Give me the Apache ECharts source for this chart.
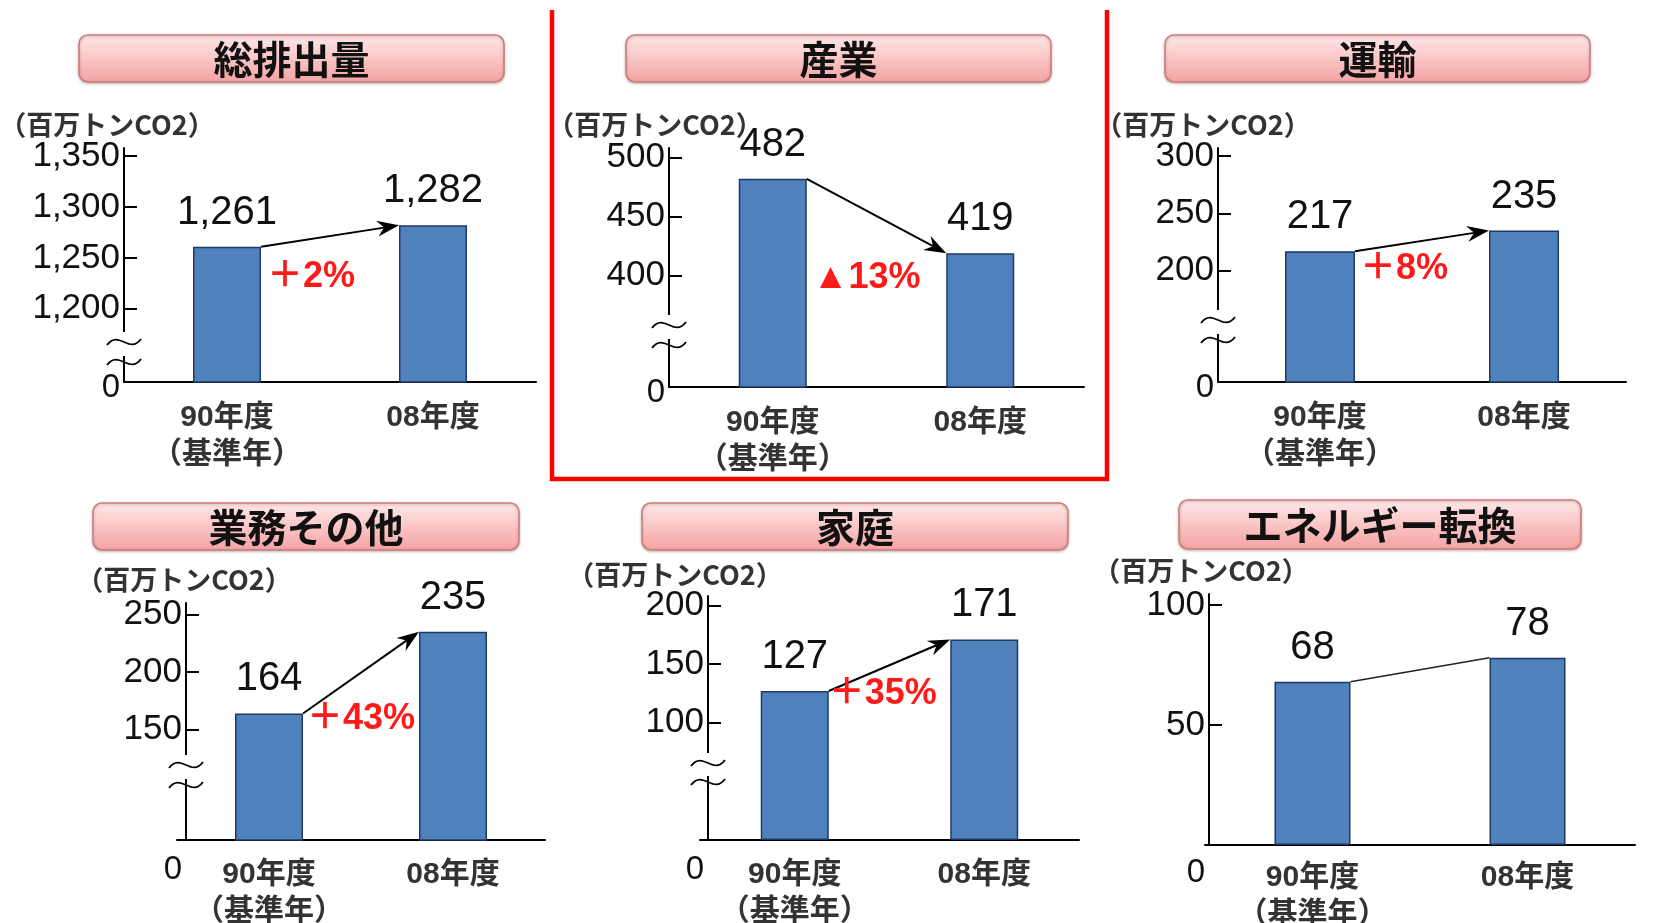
<!DOCTYPE html>
<html><head><meta charset="utf-8">
<script src="https://cdn.jsdelivr.net/npm/echarts@6/dist/echarts.min.js"></script>
<style>html,body{margin:0;padding:0;background:#fff}#c{width:1653px;height:923px}</style>
</head><body><div id="c"></div>
<script>
// ---------- data ----------
const panelTitles = ['総排出量', '産業', '運輸', '業務その他', '家庭', 'エネルギー転換'];
const categories = ['90年度\n（基準年）', '08年度'];
const unitLabel = '（百万トンCO2）';
const totalValues = [1261, 1282];
const industryValues = [482, 419];
const transportValues = [217, 235];
const commercialValues = [164, 235];
const householdValues = [127, 171];
const energyValues = [68, 78];
const changeLabels = ['＋2%', '▲13%', '＋8%', '＋43%', '＋35%', null];
const totalTicks = [1200, 1250, 1300, 1350];
const industryTicks = [400, 450, 500];
const transportTicks = [200, 250, 300];
const commercialTicks = [150, 200, 250];
const householdTicks = [100, 150, 200];
const energyTicks = [50, 100];

const seriesValues = [totalValues, industryValues, transportValues, commercialValues, householdValues, energyValues];
const tickSets = [totalTicks, industryTicks, transportTicks, commercialTicks, householdTicks, energyTicks];

// ---------- layout ----------
const layouts = [
  {gridL:124, gridW:412, top:148, h:234, axisX:124, min:1128, max:1358, barW:68, zeroShift:6, catMargin:17, nameGap:10, nameShift:17, breaks:[-40,-20], dx:6, dy:30, arrow:true, title:[79,35,425,47]},
  {gridL:669, gridW:415, top:148, h:239, axisX:669, min:306, max:508, barW:68, zeroShift:6, catMargin:17, nameGap:10, nameShift:14, breaks:[-62,-42], dx:6, dy:99, arrow:true, title:[626,35,425,47]},
  {gridL:1218, gridW:408, top:148, h:234, axisX:1218, min:103, max:307, barW:70, zeroShift:6, catMargin:17, nameGap:10, nameShift:15, breaks:[-62,-42], dx:5, dy:18, arrow:true, title:[1165,35,425,47]},
  {gridL:177, gridW:368, top:603, h:237, axisX:186, min:54, max:260, barW:68, zeroShift:30, catMargin:16, nameGap:10, nameShift:2, breaks:[-75,-55], dx:4, dy:6, arrow:true, title:[93,503,426,47]},
  {gridL:700, gridW:379, top:596, h:244, axisX:708, min:0, max:208, barW:68, zeroShift:30, catMargin:16, nameGap:4, nameShift:33, breaks:[-77,-58], dx:0, dy:3, arrow:true, title:[642,503,426,47]},
  {gridL:1205, gridW:430, top:594, h:251, axisX:1209, min:0, max:104.6, barW:76, zeroShift:28, catMargin:14, nameGap:10, nameShift:8, breaks:null, dx:0, dy:0, arrow:false, title:[1179,500,402,49]}
];

const NUM = '"Liberation Sans", Arial, sans-serif';
const MIX = '"Liberation Sans", "Noto Sans CJK JP", sans-serif';
const CJK = '"Noto Sans CJK JP", sans-serif';
const fmt = v => Number(v).toLocaleString('en-US');

const grids = [], xAxes = [], yAxes = [], series = [], graphics = [];

layouts.forEach((L, i) => {
  const values = seriesValues[i];
  const ticks = tickSets[i];
  grids.push({left: L.gridL, top: L.top, width: L.gridW, height: L.h, containLabel: false, outerBoundsMode: 'none'});
  xAxes.push({
    gridIndex: i, type: 'category', data: categories, boundaryGap: true,
    axisLine: {show: true, onZero: false, lineStyle: {color: '#000', width: 2}},
    axisTick: {show: false},
    splitLine: {show: false},
    axisLabel: {interval: 0, margin: L.catMargin, fontSize: 30, fontWeight: 'bold', color: '#333', fontFamily: MIX, lineHeight: 37}
  });
  yAxes.push({
    gridIndex: i, type: 'value', min: L.min, max: L.max, offset: L.gridL - L.axisX,
    name: unitLabel, nameLocation: 'end', nameGap: L.nameGap,
    nameTextStyle: {fontSize: 27, fontWeight: 'bold', fontFamily: CJK, color: '#333', align: 'center', verticalAlign: 'bottom', padding: [0, 2 * L.nameShift, 0, 0]},
    axisLine: {show: true, lineStyle: {color: '#000', width: 2}},
    axisTick: {show: true, inside: true, length: 13, lineStyle: {color: '#000', width: 2}, customValues: ticks},
    splitLine: {show: false},
    axisLabel: {
      margin: 4, fontSize: 35, color: '#111', fontFamily: NUM,
      customValues: [L.min].concat(ticks),
      formatter: v => Math.abs(v - L.min) < 1e-6 ? '{z|0}' : fmt(v),
      rich: {z: {fontSize: 33, fontFamily: NUM, color: '#111', padding: [2 * L.zeroShift, 0, 0, 0]}}
    }
  });
  series.push({
    type: 'bar', xAxisIndex: i, yAxisIndex: i, data: values, barWidth: L.barW, clip: true, silent: true,
    itemStyle: {color: '#4F81BD', borderColor: '#1F3864', borderWidth: 1.5},
    label: {show: true, position: 'top', distance: 14, fontSize: 40, color: '#111', fontFamily: NUM, formatter: p => fmt(p.value)}
  });
  const change = changeLabels[i];
  series.push({
    type: 'custom', xAxisIndex: i, yAxisIndex: i, silent: true, z: 5,
    data: [[0, values[0], values[1]]],
    encode: {x: 0, y: 1},
    renderItem: (params, api) => {
      const p1 = api.coord([0, api.value(1)]);
      const p2 = api.coord([1, api.value(2)]);
      const half = L.barW / 2;
      const sx = p1[0] + half, sy = p1[1], ex = p2[0] - half, ey = p2[1];
      const children = [];
      if (L.arrow) {
        const ang = Math.atan2(ey - sy, ex - sx);
        const ux = Math.cos(ang), uy = Math.sin(ang), nx = -uy, ny = ux;
        const HL = 22, HW = 8, NOTCH = 7;
        const bx = ex - HL * ux, by = ey - HL * uy;
        const mx = ex - (HL - NOTCH) * ux, my = ey - (HL - NOTCH) * uy;
        children.push({type: 'line', shape: {x1: sx, y1: sy, x2: mx, y2: my}, style: {stroke: '#000', lineWidth: 2}});
        children.push({type: 'polygon', shape: {points: [[ex, ey], [bx + HW * nx, by + HW * ny], [mx, my], [bx - HW * nx, by - HW * ny]]}, style: {fill: '#000'}});
      } else {
        children.push({type: 'line', shape: {x1: sx, y1: sy, x2: ex, y2: ey}, style: {stroke: '#222', lineWidth: 1.6}});
      }
      if (change) {
        children.push({type: 'text', x: sx + L.dx, y: sy + L.dy,
          style: {text: change, fill: '#ff1a1a', font: 'bold 36px ' + MIX, align: 'left', textAlign: 'left', verticalAlign: 'middle', textVerticalAlign: 'middle'}});
      }
      if (L.breaks) {
        const cs = params.coordSys;
        const ax = cs.x - (L.gridL - L.axisX);
        const base = cs.y + cs.height;
        const c1 = base + L.breaks[0], c2 = base + L.breaks[1];
        children.push({type: 'rect', shape: {x: ax - 5, y: c1 - 10, width: 10, height: c2 - c1 + 4}, style: {fill: '#fff'}});
        [c1, c2].forEach(cy => {
          children.push({type: 'bezierCurve', shape: {x1: ax - 17, y1: cy + 3, cpx1: ax - 5, cpy1: cy - 13, cpx2: ax + 5, cpy2: cy + 13, x2: ax + 17, y2: cy - 3},
            style: {stroke: '#000', lineWidth: 1.8, fill: null}});
        });
      }
      return {type: 'group', children};
    }
  });
  const t = L.title;
  graphics.push({type: 'group', children: [
    {type: 'rect', shape: {x: t[0], y: t[1], width: t[2], height: t[3], r: 9},
      style: {fill: new echarts.graphic.LinearGradient(0, 0, 0, 1, [{offset: 0, color: '#ffe9e9'}, {offset: 1, color: '#f5a2a2'}]),
        stroke: '#d07a7a', lineWidth: 1.5, shadowBlur: 3, shadowColor: 'rgba(0,0,0,0.25)', shadowOffsetY: 1}},
    {type: 'text', x: t[0] + t[2] / 2, y: t[1] + t[3] / 2 + 1,
      style: {text: panelTitles[i], fill: '#111', font: 'bold 39px ' + CJK, align: 'center', textAlign: 'center', verticalAlign: 'middle', textVerticalAlign: 'middle'}}
  ]});
});

graphics.push({type: 'polyline', shape: {points: [[552, 10], [552, 479], [1107, 479], [1107, 10]]},
  style: {stroke: '#ff0000', lineWidth: 4.5, fill: null}});

const chart = echarts.init(document.getElementById('c'), null, {renderer: 'canvas'});
chart.setOption({
  backgroundColor: '#fff',
  animation: false,
  grid: grids, xAxis: xAxes, yAxis: yAxes, series: series,
  graphic: {elements: graphics}
});
</script></body></html>
